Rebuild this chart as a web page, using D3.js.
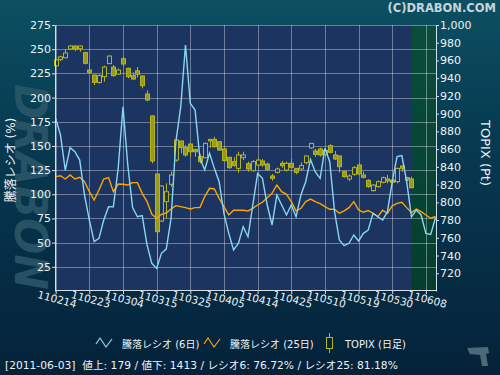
<!DOCTYPE html>
<html><head><meta charset="utf-8">
<script src="https://cdn.jsdelivr.net/npm/d3@7"></script>
<style>body{margin:0;background:#04233a}svg{display:block}</style>
</head><body><svg id="c" width="500" height="375"></svg>
<script>
// ---------- data ----------
const dates = ["110214","110215","110216","110217","110218","110221","110222","110223","110224","110225","110228",
"110301","110302","110303","110304","110307","110308","110309","110310","110311","110314","110315","110316","110317","110318","110322","110323","110324","110325","110328","110329","110330","110331",
"110401","110404","110405","110406","110407","110408","110411","110412","110413","110414","110415","110418","110419","110420","110421","110422","110425","110426","110427","110428",
"110502","110506","110509","110510","110511","110512","110513","110516","110517","110518","110519","110520","110523","110524","110525","110526","110527","110530","110531",
"110601","110602","110603","110606","110607","110608","110609","110610"];
const tickLabels = ["110214","110223","110304","110315","110325","110405","110414","110425","110510","110519","110530","110608"];
const lastDataDate = "110603";
const topixOpen  = [954,961,963,973,976.3,973.3,968.8,949.2,943.6,935.3,941.7,956.4,952.6,944.7,962,951.1,942.9,948.3,942.5,922.2,897.4,832,778.9,800.8,820.3,847.7,869.2,861.7,865.8,859.8,851.5,850.4,871,871,868.4,860.2,850.8,845.9,838.3,850.4,843.6,835.7,842.1,846.6,843.2,829.7,833.8,844,836.4,844,838.3,837.6,844.7,861.3,857.9,860.2,854.1,863.9,853.4,852.3,834.6,826.3,831.6,842.1,830.8,824.8,813.2,817.7,822.6,826.3,825.2,823.3,841,827.8,826.3];
const topixHigh  = [962,965.4,972.9,977.4,976.8,976.8,969.9,957.9,944,944.4,954.1,965.5,954.9,951,964.3,951.9,946.6,952.6,943,926.3,898,832.2,819.5,821.4,834.6,872,869.5,864.7,866,860.2,854.1,867.7,871.2,874,869,861.7,851,850.8,857.1,857.1,845.9,847.7,850.4,848.9,844.7,832,839.1,846.6,845.9,848.9,838.5,845.1,852.5,867,860.2,861.7,860.9,865.4,857.9,852.6,835.7,831.6,841,844,834.6,826,820.7,824.8,829,830.8,826.3,839,841.4,828,829];
const topixLow   = [953,959.4,962.4,971.8,970.7,969.9,955.6,945.5,932.3,933.8,936.1,956,941.7,943.6,953,939.8,938,940.9,928.6,914,844,725.6,778,782,817.7,846,855.3,851.5,851.5,851.5,844,849.6,861.7,861.7,858,845.9,837.6,840.2,833.5,847.7,834.6,834.6,840.2,840.2,835.7,824.4,832.7,839,834.6,838.3,831.6,835.7,842.9,860.5,851.1,851.5,851.5,855.3,847.7,833.5,827.8,824,830,830.8,827,816.5,812,816.5,821.4,821.4,820.3,821.4,834.6,824,815.8];
const topixClose = [960.5,964,968.4,976.3,972.9,976.3,956.8,946.6,935.3,942.9,952.6,965,942.9,949.2,956,941.7,939.1,944.4,931.6,915.4,846.6,766.9,818.4,812,830.8,870.3,861.7,853.4,857.1,857.1,845.9,866.5,869.5,862.8,859,847,839.1,841.4,853.4,853.4,837.6,845.9,847.7,842.1,837.2,827.1,837.6,841.4,844,839.5,833.8,841.4,852.3,866.5,854.1,853.4,858.6,856.4,848.9,840.2,829,829.7,839.1,832,828.2,817.7,819.5,823.3,827.8,824,822.6,838.3,838.3,825.2,816.5];
const ratio6  = [178.5,161.3,124.8,148.2,144,135.4,99.2,73.4,51,54.4,73.4,87.2,87,126.8,190.5,130,86.2,76.8,77.9,47.6,28.6,23.4,39,43.4,75,154.4,190,254.3,194,187,137.2,125.2,142.5,126.8,113,80,59.6,42.4,49.2,66.5,56.1,88.9,121.6,116.5,88.9,68.2,99.2,88.9,78.6,88.9,76.8,99.2,113,136,123.1,116.5,147.5,133.7,82,52.7,46.9,49.3,57.9,51.7,59.6,63,80.2,76.8,73.4,82,113,138.9,139.9,113,76.72,83.7,78.6,59.6,58.5,76];
const ratio25 = [118.2,119.2,115.8,119.9,115.8,117.5,113,102.7,94.1,104.4,115.8,117.2,102.7,110.6,110.3,109.6,112,112,101,92.4,79.3,75.2,79.3,80.6,84.8,88.2,87.2,86.2,84.8,86.2,86.2,97.6,106.2,105.5,95.8,87.2,78.6,83.5,83.5,83.5,82.8,85.5,88.9,91.7,96.5,101,109.6,102.7,99.9,92.4,82.8,85.5,92.4,95.1,92.4,90.3,87.2,84.5,84.5,80.4,82.8,86.2,92.4,83.8,81.4,83.1,80.4,76.9,83.5,80.4,88,90.6,91.7,86.2,81.18,84.8,82.1,78.6,75.2,77];
const leftTicks = [25,50,75,100,125,150,175,200,225,250,275];
const rightTicks = [720,740,760,780,800,820,840,860,880,900,920,940,960,980,1000];
const legendNames = ["騰落レシオ (6日)","騰落レシオ (25日)","TOPIX (日足)"];
const statusText = "[2011-06-03]  値上: 179 / 値下: 1413 / レシオ6: 76.72% / レシオ25: 81.18%";

// ---------- layout ----------
const svg = d3.select("#c");
const L = 55, R = 436, T = 25, B = 291;
const font = "'DejaVu Sans','Noto Sans CJK JP',sans-serif";
const x = d3.scaleLinear().domain([-0.14, 79.1]).range([L, R]);
const yL = d3.scaleLinear().domain([0, 275]).range([B, T]);
const yR = d3.scaleLinear().domain([700, 1000]).range([B, T]);

const defs = svg.append("defs");
const bg = defs.append("linearGradient").attr("id","bg").attr("x1",0).attr("y1",0).attr("x2",0).attr("y2",1);
bg.append("stop").attr("offset","0%").attr("stop-color","#0c5062");
bg.append("stop").attr("offset","35%").attr("stop-color","#073b52");
bg.append("stop").attr("offset","100%").attr("stop-color","#04223a");
const gg = defs.append("linearGradient").attr("id","gr").attr("x1",0).attr("y1",0).attr("x2",0).attr("y2",1);
gg.append("stop").attr("offset","0%").attr("stop-color","#0a4d3d");
gg.append("stop").attr("offset","100%").attr("stop-color","#053d2e");

svg.append("rect").attr("width",500).attr("height",375).attr("fill","url(#bg)");

// watermark
svg.append("text").attr("transform","translate(15,84) rotate(90)")
  .attr("font-family","'DejaVu Sans',sans-serif").attr("font-weight","bold").attr("font-style","italic")
  .attr("font-size",44).attr("fill","#2c586a").attr("opacity",0.85)
  .attr("textLength",206).attr("lengthAdjust","spacingAndGlyphs").text("DRABON");

// plot background
svg.append("rect").attr("x",L).attr("y",T).attr("width",R-L).attr("height",B-T).attr("fill","#1b3560");
const gx = x(dates.indexOf(lastDataDate));
svg.append("rect").attr("x",gx).attr("y",T).attr("width",R-gx).attr("height",B-T).attr("fill","url(#gr)");

// gridlines
const grid = svg.append("g").attr("stroke","#ffffff").attr("stroke-opacity",0.36).attr("stroke-width",1);
leftTicks.forEach(v => grid.append("line").attr("x1",L).attr("x2",R).attr("y1",Math.round(yL(v))+0.5).attr("y2",Math.round(yL(v))+0.5));
const tickIdx = tickLabels.map(t => dates.indexOf(t));
tickIdx.forEach(i => grid.append("line").attr("x1",Math.round(x(i))+0.5).attr("x2",Math.round(x(i))+0.5).attr("y1",T).attr("y2",B));

// candles
const candleFill = "#9a9a18", candleStroke = "#b4b420";
const cg = svg.append("g");
topixClose.forEach((c, i) => {
  const o = topixOpen[i], h = topixHigh[i], l = topixLow[i];
  const cx = Math.round(x(i)) + 0.5;
  cg.append("line").attr("x1",cx).attr("x2",cx).attr("y1",yR(h)).attr("y2",yR(l)).attr("stroke",candleStroke).attr("stroke-width",1);
  const top = yR(Math.max(o,c)), bot = yR(Math.min(o,c));
  const up = c >= o;
  cg.append("rect").attr("x",cx-2).attr("y",top).attr("width",4).attr("height",Math.max(1.5,bot-top))
    .attr("fill", up ? "#1b3560" : candleFill).attr("stroke",candleStroke).attr("stroke-width",1);
});

// lines
const line = d3.line().x((d,i)=>x(i)).y(d=>yL(d));
svg.append("path").datum(ratio25).attr("d",line).attr("fill","none").attr("stroke","#ffa500").attr("stroke-width",1.4);
svg.append("path").datum(ratio6).attr("d",line).attr("fill","none").attr("stroke","#8ad6f2").attr("stroke-width",1.4);

// axes
const axisColor = "#d8dee6";
const ax1 = svg.append("g").attr("transform",`translate(${L},0)`)
  .call(d3.axisLeft(yL).tickValues(leftTicks).tickSize(3).tickPadding(1).tickSizeOuter(0));
const ax2 = svg.append("g").attr("transform",`translate(${R},0)`)
  .call(d3.axisRight(yR).tickValues(rightTicks).tickSize(3).tickPadding(1).tickSizeOuter(0).tickFormat(d3.format(",")));
const ax3 = svg.append("g").attr("transform",`translate(0,${B-1})`)
  .call(d3.axisBottom(x).tickValues(tickIdx).tickSize(4).tickFormat((d,i)=>tickLabels[i]).tickSizeOuter(0));
[ax1,ax2,ax3].forEach(a=>{
  a.selectAll("path,line").attr("stroke",axisColor);
  a.selectAll("text").attr("fill","#eef2f5").attr("font-family",font).attr("font-size",11);
});
ax3.selectAll("text").attr("text-anchor","middle").attr("dy",null).attr("y",null)
  .attr("dominant-baseline","central").attr("font-size",10.5)
  .attr("transform","translate(1,9) rotate(15)");

// axis titles
svg.append("text").attr("transform","translate(15,160) rotate(-90)").attr("text-anchor","middle")
  .attr("font-family",font).attr("font-size",12).attr("fill","#eef2f5").text("騰落レシオ (%)");
svg.append("text").attr("transform","translate(481,153) rotate(90)").attr("text-anchor","middle")
  .attr("font-family",font).attr("font-size",13).attr("fill","#eef2f5").text("TOPIX (Pt)");

// copyright
svg.append("text").attr("x",496).attr("y",12).attr("text-anchor","end")
  .attr("font-family",font).attr("font-weight","bold").attr("font-size",11.5).attr("fill","#c9d3da").text("(C)DRABON.COM");

// legend
const lg = svg.append("g").attr("font-family",font).attr("font-size",10).attr("fill","#eef2f5");
const zig = (x0) => `M${x0},344 L${x0+4},338 L${x0+10},347 L${x0+16},339`;
lg.append("path").attr("d",zig(96)).attr("fill","none").attr("stroke","#8ad6f2").attr("stroke-width",1.2);
lg.append("text").attr("x",122).attr("y",348).text(legendNames[0]);
lg.append("path").attr("d",zig(204)).attr("fill","none").attr("stroke","#ffa500").attr("stroke-width",1.2);
lg.append("text").attr("x",230).attr("y",348).text(legendNames[1]);
lg.append("line").attr("x1",329.5).attr("x2",329.5).attr("y1",333).attr("y2",353).attr("stroke",candleStroke);
lg.append("rect").attr("x",326.5).attr("y",337.5).attr("width",6).attr("height",11).attr("fill","#04263a").attr("stroke",candleStroke);
lg.append("text").attr("x",345).attr("y",348).text(legendNames[2]);

// status line
svg.append("text").attr("x",5).attr("y",369).attr("font-family",font).attr("font-size",10.7).attr("fill","#eef2f5")
  .attr("xml:space","preserve").style("white-space","pre").text(statusText);

// small icon bottom-right
svg.append("path").attr("d","M467,348 L488,347 L489,353 L486,354 L488,366 L482,366 L480,355 L470,354 Z").attr("fill","#4a6a7a");
</script></body></html>
